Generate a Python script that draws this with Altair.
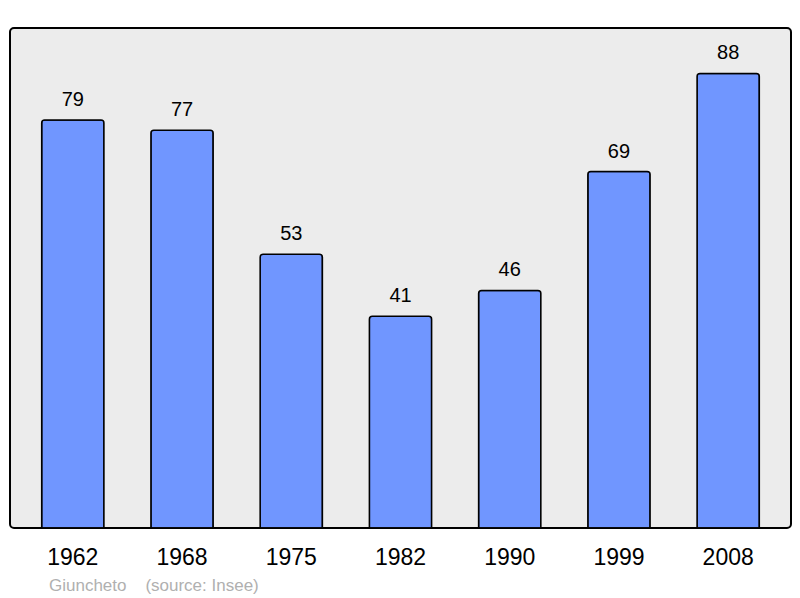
import altair as alt
import pandas as pd

years = ["1962", "1968", "1975", "1982", "1990", "1999", "2008"]
population = [79, 77, 53, 41, 46, 69, 88]

df = pd.DataFrame({"year": years, "pop": population})

FONT = "Liberation Sans"
NB = "\u00a0"

x = alt.X("year:N", sort=years, title=None,
          scale=alt.Scale(paddingInner=0.43, paddingOuter=0.29),
          axis=alt.Axis(labelAngle=0, labelFontSize=23, labelColor="black",
                        labelFont=FONT, ticks=False, domain=False,
                        labelPadding=18, grid=False))
y = alt.Y("pop:Q", title=None, scale=alt.Scale(domain=[0, 96.8], nice=False),
          axis=None)

bars = alt.Chart(df).mark_bar(
    color="#7096FF", stroke="black", strokeWidth=1.5,
    cornerRadiusTopLeft=3, cornerRadiusTopRight=3
).encode(x=x, y=y)

labels = alt.Chart(df).mark_text(
    fontSize=20, font=FONT, color="black", baseline="alphabetic", dy=-14
).encode(x=alt.X("year:N", sort=years), y="pop:Q", text="pop:Q")

chart = alt.layer(bars, labels).properties(
    width=781, height=500,
    autosize=alt.AutoSizeParams(type="none"),
    padding={"left": 2, "top": 20, "right": 1, "bottom": 66},
    title=alt.TitleParams("Giuncheto" + NB * 4 + "(source: Insee)", orient="bottom",
                          anchor="start", fontSize=17, font=FONT,
                          color="#b0b0b0", fontWeight="normal", dx=39, offset=9)
).configure_view(
    fill="#ECECEC", stroke="black", strokeWidth=2, cornerRadius=4
)

chart.save("out.html", embed_options={"renderer": "svg", "actions": False})
